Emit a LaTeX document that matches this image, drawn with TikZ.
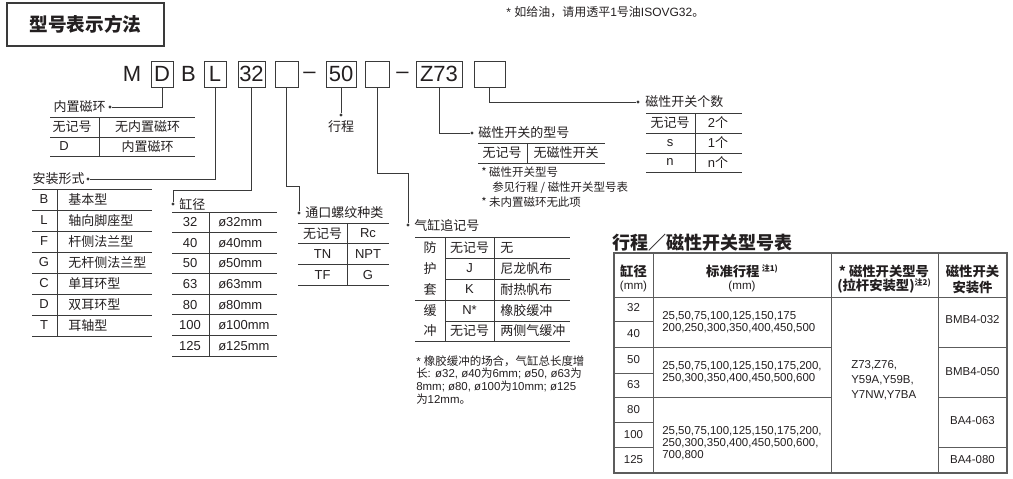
\documentclass[tikz,border=0pt]{standalone}
\usepackage{fontspec}
\setmainfont{Liberation Sans}
\newfontfamily\cjkf{Noto Sans CJK SC}
\newcommand\zz[1]{{\cjkf #1}}
\definecolor{ink}{HTML}{231F20}
\definecolor{ln}{HTML}{3A3A3A}
\definecolor{tg}{HTML}{5C5C5C}
\begin{document}
\begin{tikzpicture}[x=0.75pt,y=-0.75pt,
  code/.style={font=\fontsize{16.5}{18}\selectfont, text=ink, inner sep=0pt},
  cbox/.style={code, draw=ln, line width=0.7pt, minimum height=19.5pt},
  tl/.style={font=\fontsize{9.75}{11}\selectfont, text=ink, inner sep=0pt},
  tz/.style={font=\cjkf\fontsize{9.75}{11}\selectfont, text=ink, inner sep=0pt},
  nt/.style={font=\fontsize{8.6}{9.6}\selectfont, text=ink, inner sep=0pt},
  ntz/.style={font=\cjkf\fontsize{8.6}{9.6}\selectfont, text=ink, inner sep=0pt},
  dotn/.style={circle, fill=ln, inner sep=0pt, minimum size=2.6pt},
  lead/.style={draw=ln, line width=0.6pt},
  rl/.style={draw=ln, line width=0.6pt},
  tbo/.style={draw=tg, line width=1pt},
  tbi/.style={draw=tg, line width=0.7pt},
  hz/.style={font=\cjkf\bfseries\fontsize{10}{11}\selectfont, text=ink, inner sep=0pt},
  hl/.style={font=\fontsize{8.7}{10}\selectfont, text=ink, inner sep=0pt},
  bd/.style={font=\fontsize{8.6}{9.2}\selectfont, text=ink, inner sep=0pt, align=left}
]
\useasboundingbox (0,0) rectangle (1013,478);

% title
\node[draw=ln, line width=0.8pt, minimum width=117.75pt, minimum height=32.25pt, inner sep=0pt,
  font=\cjkf\bfseries\fontsize{14}{16}\selectfont, text=ink] (title) at (85.5,24.5) {型号表示方法};
\node[anchor=west, font=\fontsize{9}{10}\selectfont, text=ink, inner sep=0pt] (oil) at (506,12)
  {* \zz{如给油，请用透平}1\zz{号油}ISOVG32\zz{。}};

% model code
\node[code] (cM) at (132,74) {M};
\node[cbox, minimum width=16.5pt] (bD) at (162,74) {D};
\node[code] (cB) at (188.5,74) {B};
\node[cbox, minimum width=16.5pt] (bL) at (215,74) {L};
\node[cbox, minimum width=20.25pt] (b32) at (251.5,74) {32};
\node[cbox, minimum width=17.25pt] (bE1) at (286.5,74) {};
\node[code] (dash1) at (309.5,75) {–};
\node[cbox, minimum width=22.5pt] (b50) at (341,74) {50};
\node[cbox, minimum width=18pt] (bE2) at (377,74) {};
\node[code] (dash2) at (402.5,75) {–};
\node[cbox, minimum width=34.5pt] (bZ) at (439,74) {Z73};
\node[cbox, minimum width=23.25pt] (bE3) at (489.5,74) {};

% leaders and labels
\node[dotn] (dD) at (110,107) {};
\node[tz, anchor=east] (lD) at (106,107) {内置磁环};
\draw[lead] (bD.south) |- (dD);

\node[dotn] (dL) at (88,179) {};
\node[tz, anchor=east] (lL) at (85,179) {安装形式};
\draw[lead] (bL.south) |- (dL);

\coordinate (k32) at (173,190);
\node[dotn] (d32) at (173,204) {};
\node[tz, anchor=west] (l32) at (179,204) {缸径};
\draw[lead] (b32.south) |- (k32) -- (d32);

\coordinate (kE1) at (299,186);
\node[dotn] (dE1) at (299,213) {};
\node[tz, anchor=west] (lE1) at (305,213) {通口螺纹种类};
\draw[lead] (bE1.south) |- (kE1) -- (dE1);

\node[dotn] (d50) at (341,115) {};
\node[tz, anchor=north] (l50) at (341,120) {行程};
\draw[lead] (b50.south) -- (d50);

\coordinate (kE2) at (408,173);
\node[dotn] (dE2) at (408,225) {};
\node[tz, anchor=west] (lE2) at (414,225) {气缸追记号};
\draw[lead] (bE2.south) |- (kE2) -- (dE2);

\node[dotn] (dZ) at (472,133) {};
\node[tz, anchor=west] (lZ) at (478,133) {磁性开关的型号};
\draw[lead] (bZ.south) |- (dZ);

\node[dotn] (dE3) at (638,102) {};
\node[tz, anchor=west] (lE3) at (645,102) {磁性开关个数};
\draw[lead] (bE3.south) |- (dE3);

% table 1: built-in magnet
\draw[rl] (50,117) -- (195,117) (50,137) -- (195,137) (50,156) -- (195,156) (99,117) -- (99,156);
\node[tz] at (72,127) {无记号};
\node[tz] at (147.5,127) {无内置磁环};
\node[tl] at (64,146.5) {D};
\node[tz] at (147.5,146.5) {内置磁环};

% table 2: mounting
\foreach \k in {0,...,7} { \draw[rl] (32,189+21*\k) -- (152,189+21*\k); }
\draw[rl] (57,189) -- (57,336);
\foreach \a/\b [count=\i from 0] in {B/基本型, L/轴向脚座型, F/杆侧法兰型, G/无杆侧法兰型, C/单耳环型, D/双耳环型, T/耳轴型} {
  \node[tl] at (44,199.5+21*\i) {\a};
  \node[tz, anchor=west] at (68,199.5+21*\i) {\b};
}

% table 3: bore
\foreach \k in {0,...,7} { \draw[rl] (172,212+20.57*\k) -- (277,212+20.57*\k); }
\draw[rl] (209,212) -- (209,356);
\foreach \a [count=\i from 0] in {32,40,50,63,80,100,125} {
  \node[tl] at (190,222.3+20.57*\i) {\a};
  \node[tl, anchor=west] at (218,222.3+20.57*\i) {ø\a mm};
}

% table 4: port thread
\foreach \yy in {223,243.7,264.3,285} { \draw[rl] (298,\yy) -- (389,\yy); }
\draw[rl] (347,223) -- (347,285);
\node[tz] at (322.5,233.5) {无记号}; \node[tl] at (368,233.5) {Rc};
\node[tl] at (322.5,254.5) {TN}; \node[tl] at (368,254.5) {NPT};
\node[tl] at (322.5,275) {TF}; \node[tl] at (368,275) {G};

% table 5: suffix
\draw[rl] (415,237) -- (570,237) (415,300) -- (570,300) (415,341) -- (570,341);
\draw[rl] (445,258) -- (570,258) (445,279) -- (570,279) (445,321) -- (570,321);
\draw[rl] (445,237) -- (445,341) (494,237) -- (494,341);
\node[tz] at (430,247.5) {防};
\node[tz] at (430,268.5) {护};
\node[tz] at (430,289.5) {套};
\node[tz] at (430,310.5) {缓};
\node[tz] at (430,331) {冲};
\node[tz] at (469.5,247.5) {无记号};
\node[tl] at (469.5,268.5) {J};
\node[tl] at (469.5,289.5) {K};
\node[tl] at (469.5,310.5) {N*};
\node[tz] at (469.5,331) {无记号};
\node[tz, anchor=west] at (500,247.5) {无};
\node[tz, anchor=west] at (500,268.5) {尼龙帆布};
\node[tz, anchor=west] at (500,289.5) {耐热帆布};
\node[tz, anchor=west] at (500,310.5) {橡胶缓冲};
\node[tz, anchor=west] at (500,331) {两侧气缓冲};
\node[nt, anchor=north west, align=left, font=\fontsize{8.6}{9.5}\selectfont] (note5) at (416,355)
  {* \zz{橡胶缓冲的场合，气缸总长度增}\\
   \zz{长}: ø32, ø40\zz{为}6mm; ø50, ø63\zz{为}\\
   8mm; ø80, ø100\zz{为}10mm; ø125\\
   \zz{为}12mm\zz{。}};

% table 6: switch type
\draw[rl] (478,143) -- (605,143) (478,163) -- (605,163) (527,143) -- (527,163);
\node[tz] at (502,153) {无记号};
\node[tz] at (566,153) {无磁性开关};
\node[ntz, anchor=west] at (481,172) {* 磁性开关型号};
\node[ntz, anchor=west] at (492,187.5) {参见行程 / 磁性开关型号表};
\node[ntz, anchor=west] at (481,202.5) {* 未内置磁环无此项};

% table 7: switch count
\foreach \yy in {113,133,153,172} { \draw[rl] (646,\yy) -- (742,\yy); }
\draw[rl] (695,113) -- (695,172);
\node[tz] at (670,123) {无记号}; \node[tl] at (718,123) {2\zz{个}};
\node[tl] at (670,143) {s}; \node[tl] at (718,143) {1\zz{个}};
\node[tl] at (670,162.5) {n}; \node[tl] at (718,162.5) {n\zz{个}};

% right table
\node[anchor=west, font=\cjkf\bfseries\fontsize{13.5}{15}\selectfont, text=ink, inner sep=0pt] (ttl) at (612,243) {行程／磁性开关型号表};
\draw[tbo] (614,253) rectangle (1007,473);
\draw[tbi] (614,297) -- (1007,297);
\draw[tbi] (653,253) -- (653,473) (831,253) -- (831,473) (938,253) -- (938,473);
\draw[tbi] (614,321) -- (653,321) (614,373) -- (653,373) (614,422) -- (653,422);
\draw[tbi] (614,347) -- (831,347) (938,347) -- (1007,347);
\draw[tbi] (614,397) -- (831,397) (938,397) -- (1007,397);
\draw[tbi] (614,447) -- (653,447) (938,447) -- (1007,447);

\node[hz] at (633.5,271) {缸径};
\node[hl] at (633.5,286) {(mm)};
\node[hz] at (742,271) {标准行程\,\raisebox{3.5pt}{\fontsize{6}{6}\selectfont 注1)}};
\node[hl] at (742,286) {(mm)};
\node[hz] at (884,271) {* 磁性开关型号};
\node[hz] at (884,286) {(拉杆安装型)\raisebox{3.5pt}{\fontsize{6}{6}\selectfont 注2)}};
\node[hz] at (972.5,271) {磁性开关};
\node[hz] at (972.5,287) {安装件};

\foreach \a/\yy in {32/308,40/334,50/360,63/385,80/409.5,100/434.5,125/460} {
  \node[bd] at (633.5,\yy) {\a};
}
\node[bd, anchor=west] at (662,322.5) {25,50,75,100,125,150,175\\200,250,300,350,400,450,500};
\node[bd, anchor=west] at (662,372) {25,50,75,100,125,150,175,200,\\250,300,350,400,450,500,600};
\node[bd, anchor=west] at (662,443) {25,50,75,100,125,150,175,200,\\250,300,350,400,450,500,600,\\700,800};
\node[bd, anchor=west, font=\fontsize{8.6}{11.2}\selectfont] at (851,380) {Z73,Z76,\\Y59A,Y59B,\\Y7NW,Y7BA};
\node[bd] at (972.5,320) {BMB4-032};
\node[bd] at (972.5,372) {BMB4-050};
\node[bd] at (972.5,421) {BA4-063};
\node[bd] at (972.5,460) {BA4-080};
\end{tikzpicture}
\end{document}
